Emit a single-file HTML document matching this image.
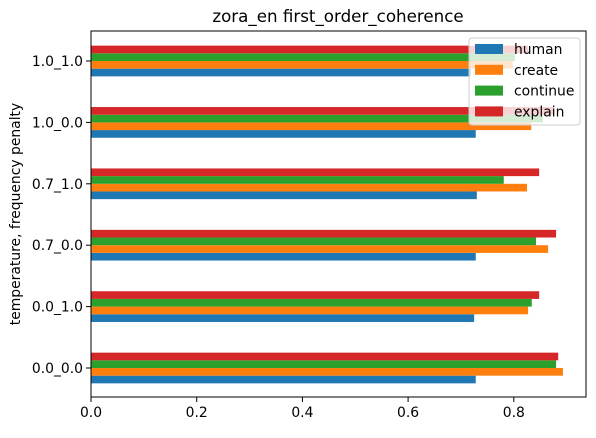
<!DOCTYPE html>
<html><head><meta charset="utf-8"><style>
body{margin:0;background:#fff;font-family:"Liberation Sans","DejaVu Sans",sans-serif}
</style></head><body>
<svg id="c" width="596" height="433" xmlns="http://www.w3.org/2000/svg" font-family="DejaVu Sans, Liberation Sans, sans-serif">
<text x="338" y="22" font-size="16.7" text-anchor="middle">zora_en first_order_coherence</text>
<text transform="translate(20,214) rotate(-90)" font-size="13.9" text-anchor="middle">temperature, frequency penalty</text>
<g id="bars"></g><g id="ticks"></g>
<rect x="91" y="31" width="495" height="366" fill="none" stroke="#000" stroke-width="1"/>
<g id="legend"></g>
</svg>
<script>
const categories=["0.0_0.0","0.0_1.0","0.7_0.0","0.7_1.0","1.0_0.0","1.0_1.0"];
const series=["human","create","continue","explain"];
const colors=["#1f77b4","#ff7f0e","#2ca02c","#d62728"];
const human=[0.728,0.725,0.728,0.730,0.728,0.719];
const create=[0.893,0.827,0.865,0.825,0.833,0.798];
const cont=[0.880,0.834,0.842,0.781,0.855,0.802];
const explain=[0.884,0.848,0.880,0.848,0.875,0.827];
const xticks=[0,0.2,0.4,0.6,0.8];
const vals=[human,create,cont,explain];
const NS="http://www.w3.org/2000/svg";
const x=v=>91+v*528.5;
const unit=61.4, y=i=>368-i*unit;
const bh=unit*0.125;
const bars=document.getElementById('bars'),ticks=document.getElementById('ticks');
function mk(t,a,p){const e=document.createElementNS(NS,t);for(const k in a)e.setAttribute(k,a[k]);p.appendChild(e);return e;}
categories.forEach((c,i)=>{
 series.forEach((s,j)=>{
  const r=mk('rect',{x:x(0),y:y(i)+bh*(1-j),width:x(vals[j][i])-x(0),height:bh,fill:colors[j]},bars);
  
  
 });
 mk('line',{x1:86,x2:91,y1:y(i),y2:y(i),stroke:'#000'},ticks);
 const t=mk('text',{x:83,y:y(i)+5,'font-size':13.9,'text-anchor':'end'},ticks);t.textContent=c;
 
 
});
xticks.forEach(v=>{
 mk('line',{x1:x(v),x2:x(v),y1:397,y2:402,stroke:'#000'},ticks);
 const t=mk('text',{x:x(v),y:417,'font-size':13.9,'text-anchor':'middle'},ticks);t.textContent=v.toFixed(1);
 
 
});
const lg=document.getElementById('legend');


mk('rect',{x:469,y:38,width:111,height:87,rx:3,fill:'#fff','fill-opacity':0.8,stroke:'#ccc'},lg);
series.forEach((s,j)=>{
 const yy=48+j*20.8;
 mk('rect',{x:475,y:yy-4,width:28,height:10,fill:colors[j]},lg);
 const t=mk('text',{x:514,y:yy+6,'font-size':13.9},lg);t.textContent=s;
 
 
});
</script>
</body></html>
